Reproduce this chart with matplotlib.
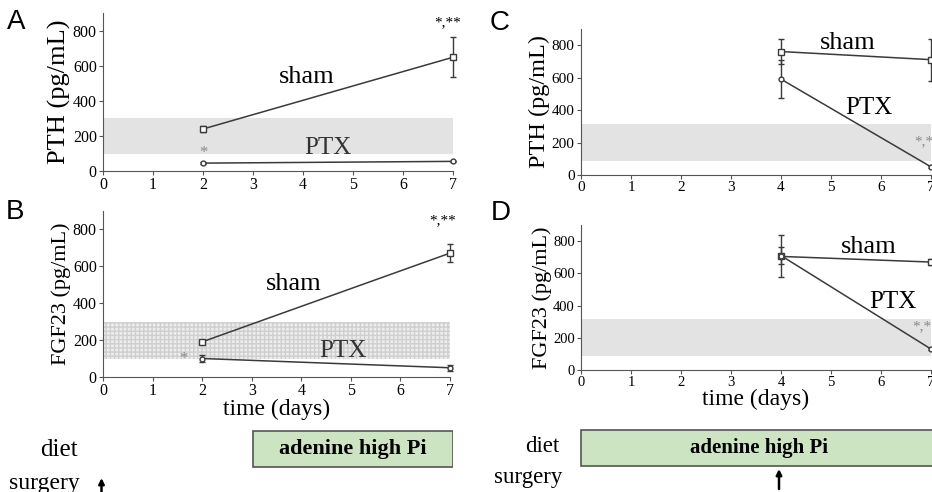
import numpy as np
import matplotlib
matplotlib.use("Agg")
import matplotlib.pyplot as plt
from matplotlib.patches import Rectangle

plt.rcParams["font.family"] = "Liberation Serif"

#- Data -----------------------------------------------------------------------
# left panels: surgery day 0, diet from day 3, samples at day 2 and 7
days_left = [2, 7]
pth_sham_A = [240, 650]
pth_sham_A_err = [15, 115]
pth_ptx_A = [45, 55]
pth_ptx_A_err = [5, 5]

fgf_sham_B = [190, 670]
fgf_sham_B_err = [8, 50]
fgf_ptx_B = [100, 50]
fgf_ptx_B_err = [20, 15]

# right panels: diet from day 0, surgery day 4, samples at day 4 and 7
days_right = [4, 7]
pth_sham_C = [760, 710]
pth_sham_C_err = [75, 130]
pth_ptx_C = [590, 50]
pth_ptx_C_err = [115, 8]

fgf_sham_D = [705, 670]
fgf_sham_D_err = [130, 20]
fgf_ptx_D = [710, 130]
fgf_ptx_D_err = [55, 8]

# normal ranges (grey bands)
band_left = (100, 300)
band_right = (85, 315)

W, H = 932, 492
LINE = "#3a3a3a"


def rect(x0, top, x1, bottom):
    # pixel box (top-left origin) -> figure fraction
    return [x0 / W, 1 - bottom / H, (x1 - x0) / W, (bottom - top) / H]


fig = plt.figure(figsize=(W / 100, H / 100), dpi=100)

axA = fig.add_axes(rect(103, 13.5, 453, 171))
axB = fig.add_axes(rect(103, 210.6, 450, 377))
axC = fig.add_axes(rect(581, 28.8, 931, 175))
axD = fig.add_axes(rect(581, 225, 931, 370))


def panel(ax, days, sham, sham_err, ptx, ptx_err, band, ylabel, ylsize, ticksize, hatch=False):
    ax.set_xlim(0, 7)
    ax.set_ylim(0, 900)
    for s in ["top", "right"]:
        ax.spines[s].set_visible(False)
    for s in ["left", "bottom"]:
        ax.spines[s].set_color("#555555")
    if hatch:
        ax.fill_between([0, 7], band[0], band[1], facecolor="#ededed",
                        edgecolor="#cfcfcf", hatch="++++", linewidth=0)
    else:
        ax.fill_between([0, 7], band[0], band[1], facecolor="#e3e3e3", linewidth=0)
    ax.errorbar(days, sham, yerr=sham_err, color=LINE, lw=1.1, marker="s", ms=4,
                mfc="white", mec=LINE, capsize=2.5, elinewidth=1, clip_on=False, zorder=3)
    ax.errorbar(days, ptx, yerr=ptx_err, color=LINE, lw=1.1, marker="o", ms=3.5,
                mfc="white", mec=LINE, capsize=2.5, elinewidth=1, clip_on=False, zorder=3)
    ax.set_xticks(range(8))
    ax.set_yticks([0, 200, 400, 600, 800])
    ax.tick_params(labelsize=ticksize, length=3, width=0.8, pad=1.5, colors="#555555",
                   labelcolor="black")
    ax.set_ylabel(ylabel, fontsize=ylsize, labelpad=1)


panel(axA, days_left, pth_sham_A, pth_sham_A_err, pth_ptx_A, pth_ptx_A_err,
      band_left, "PTH (pg/mL)", 19, 11.5)
panel(axB, days_left, fgf_sham_B, fgf_sham_B_err, fgf_ptx_B, fgf_ptx_B_err,
      band_left, "FGF23 (pg/mL)", 16, 11.5, hatch=True)
panel(axC, days_right, pth_sham_C, pth_sham_C_err, pth_ptx_C, pth_ptx_C_err,
      band_right, "PTH (pg/mL)", 17.5, 11)
panel(axD, days_right, fgf_sham_D, fgf_sham_D_err, fgf_ptx_D, fgf_ptx_D_err,
      band_right, "FGF23 (pg/mL)", 16, 10.5)

axB.set_xlabel("time (days)", fontsize=17, labelpad=0)
axD.set_xlabel("time (days)", fontsize=17, labelpad=0)

# series labels and significance marks
axA.text(4.08, 537, "sham", fontsize=19, ha="center", va="center")
axA.text(4.49, 131, "PTX", fontsize=18, ha="center", va="center", color="#333333")
axA.text(2.0, 105, "*", fontsize=12, ha="center", va="center", color="#888888")
axA.text(6.9, 850, "*,**", fontsize=11, ha="center", va="center")

axB.text(3.85, 504, "sham", fontsize=19, ha="center", va="center")
axB.text(4.84, 140, "PTX", fontsize=18, ha="center", va="center", color="#333333")
axB.text(1.62, 95, "*", fontsize=12, ha="center", va="center", color="#888888")
axB.text(6.86, 845, "*,**", fontsize=11, ha="center", va="center")

# the right-hand marks run off the edge of the original figure
axC.text(5.33, 810, "sham", fontsize=19, ha="center", va="center")
axC.text(5.76, 412, "PTX", fontsize=18, ha="center", va="center")
axC.text(6.66, 205, "*,*", fontsize=11, ha="left", va="center", color="#888888", clip_on=False)

axD.text(5.76, 765, "sham", fontsize=19, ha="center", va="center")
axD.text(6.23, 424, "PTX", fontsize=18, ha="center", va="center")
axD.text(6.63, 269, "*,*", fontsize=11, ha="left", va="center", color="#888888", clip_on=False)

# panel letters
for lbl, (px, py) in zip("ABCD", [(16, 22), (15, 212), (500, 23), (501, 213)]):
    fig.text(px / W, 1 - py / H, lbl, fontsize=20, ha="center", va="center",
             family="Liberation Sans")

#- Timelines ------------------------------------------------------------------
# y in these axes is image pixel rows so boxes line up with the picture
tlL = fig.add_axes(rect(103, 400, 453, 492))
tlR = fig.add_axes(rect(581, 400, 931, 492))
for ax in (tlL, tlR):
    ax.set_xlim(0, 7)
    ax.set_ylim(492, 400)
    ax.axis("off")

arrow = dict(arrowstyle="-|>", color="black", lw=1.8, mutation_scale=8,
             shrinkA=0, shrinkB=0)

tlL.add_patch(Rectangle((3, 431), 4, 36, facecolor="#cde4c3", edgecolor="#555555", lw=1.2))
tlL.text(5, 449, "adenine high Pi", fontsize=16, fontweight="bold", ha="center", va="center")
tlL.text(-0.5, 450, "diet", fontsize=18, ha="right", va="center", clip_on=False)
tlL.text(-0.46, 484, "surgery", fontsize=17, ha="right", va="center", clip_on=False)
tlL.annotate("", xy=(-0.03, 478), xytext=(-0.03, 492), annotation_clip=False, arrowprops=arrow)

tlR.add_patch(Rectangle((0, 430), 7.2, 36, facecolor="#cde4c3", edgecolor="#555555",
                        lw=1.2, clip_on=False))
tlR.text(3.56, 448, "adenine high Pi", fontsize=15, fontweight="bold", ha="center", va="center")
tlR.text(-0.44, 447, "diet", fontsize=16.5, ha="right", va="center", clip_on=False)
tlR.text(-0.38, 478, "surgery", fontsize=16.5, ha="right", va="center", clip_on=False)
tlR.annotate("", xy=(3.96, 469), xytext=(3.96, 489), annotation_clip=False, arrowprops=arrow)

plt.savefig("out.png", dpi=100)
